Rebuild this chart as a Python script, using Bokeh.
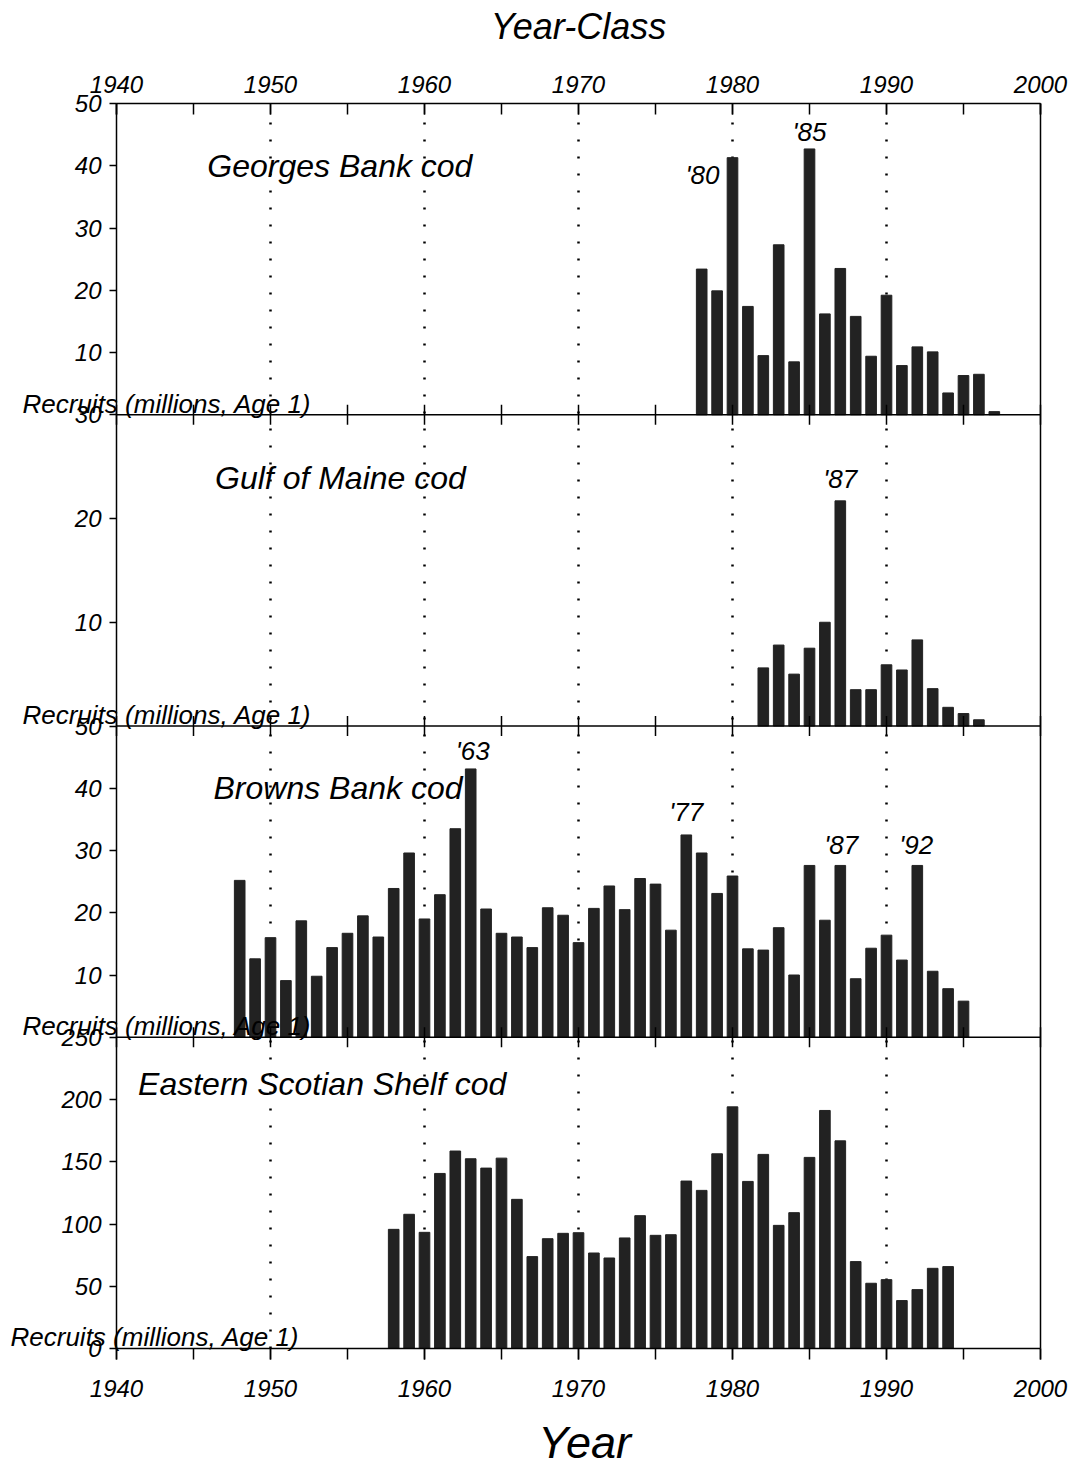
from bokeh.plotting import figure
from bokeh.models import (Range1d, LinearAxis, FixedTicker, Label, LabelSet,
                          ColumnDataSource, SingleIntervalTicker)
from bokeh.core.properties import value
from bokeh.embed import file_html
from bokeh.resources import INLINE

FONT = "Liberation Sans"

# ---------------- data ----------------
gb_years = list(range(1978, 1998))
gb_vals = [23.4, 19.9, 41.3, 17.4, 9.5, 27.3, 8.5, 42.7, 16.2, 23.5,
           15.8, 9.4, 19.2, 7.9, 10.9, 10.1, 3.5, 6.3, 6.5, 0.5]

gm_years = list(range(1982, 1997))
gm_vals = [5.6, 7.8, 5.0, 7.5, 10.0, 21.7, 3.5, 3.5, 5.9, 5.4, 8.3, 3.6, 1.8, 1.2, 0.6]

bb_years = list(range(1948, 1996))
bb_vals = [25.2, 12.6, 16.0, 9.1, 18.7, 9.8, 14.4, 16.7, 19.5, 16.1,
           23.9, 29.6, 19.0, 22.9, 33.5, 43.1, 20.6, 16.7, 16.1, 14.4,
           20.8, 19.6, 15.2, 20.7, 24.3, 20.5, 25.5, 24.6, 17.2, 32.5,
           29.6, 23.1, 25.9, 14.2, 14.0, 17.6, 10.0, 27.6, 18.8, 27.6,
           9.4, 14.3, 16.4, 12.4, 27.6, 10.6, 7.8, 5.8]

ess_years = list(range(1958, 1995))
ess_vals = [95.7, 107.8, 93.3, 140.6, 158.6, 152.4, 144.9, 152.9, 119.8, 73.8,
            88.2, 92.5, 93.0, 76.7, 72.7, 88.8, 106.7, 90.9, 91.4, 134.5,
            127.0, 156.4, 194.1, 134.2, 155.9, 98.9, 109.1, 153.5, 191.2, 166.8,
            69.8, 52.4, 55.3, 38.5, 47.3, 64.4, 65.8]

panel_titles = ["Georges Bank cod", "Gulf of Maine cod", "Browns Bank cod",
                "Eastern Scotian Shelf cod"]
panel_years = [gb_years, gm_years, bb_years, ess_years]
panel_vals = [gb_vals, gm_vals, bb_vals, ess_vals]
panel_max = [50, 30, 50, 250]
panel_step = [10, 10, 10, 50]

ann_panel = [0, 0, 1, 2, 2, 2, 2]
ann_year = [1980, 1985, 1987, 1963, 1977, 1987, 1992]
ann_text = ["'80", "'85", "'87", "'63", "'77", "'87", "'92"]

y_label = "Recruits (millions, Age 1)"
x_title_top = "Year-Class"
x_title_bottom = "Year"
X_START, X_END = 1940, 2000

# ---------------- styling / layout ----------------
BAND = 300
NP = 4
W, H = 1076, 1468
FRAME_L, FRAME_R, FRAME_T, FRAME_B = 116, 1040, 103, 1348   # box on the canvas
ppy = (FRAME_R - FRAME_L) / (X_END - X_START)
upp = NP * BAND / (FRAME_B - FRAME_T)
x_lo = X_START - FRAME_L / ppy
x_hi = X_END + (W - FRAME_R) / ppy
y_lo = -(H - FRAME_B) * upp
y_hi = NP * BAND + FRAME_T * upp

title_x = [1945.9, 1946.4, 1946.3, 1941.4]
title_y = [1140, 838.6, 539.8, 255.4]   # band units
recr_x = [x_lo + 22 / ppy] * 3 + [x_lo + 10 / ppy]
recr_dy = [11, 11, 11, 12]
ann_dx = [-30, 0, 0, 2, 0, 1, -1]
ann_dy = [-26, 8, 13, 9, 14, 11, 11]
BAR = "#222222"

p = figure(width=W, height=H, x_range=Range1d(x_lo, x_hi),
           y_range=Range1d(y_lo, y_hi), output_backend="svg",
           toolbar_location=None, x_axis_location=None, y_axis_location=None,
           min_border_left=0, min_border_right=0, min_border_top=0,
           min_border_bottom=0)
p.grid.visible = False
p.outline_line_color = None
p.background_fill_color = "white"
p.border_fill_color = "white"

# panel y ranges: each panel's 0..max fills its band of the shared frame
ranges = {}
for i in range(NP):
    M = panel_max[i]
    b0 = (NP - 1 - i) * BAND
    ranges["p%d" % i] = Range1d(start=(y_lo - b0) * M / BAND,
                                end=(y_hi - b0) * M / BAND)
p.extra_y_ranges = ranges

# dotted decade guides
decades = list(range(1950, 2000, 10))
p.segment(x0=decades, x1=decades, y0=[0] * len(decades),
          y1=[NP * BAND - 8 * upp] * len(decades), line_color="black",
          line_width=2.5, line_dash="2 15", level="underlay")

# bars
for i in range(NP):
    p.vbar(x=panel_years[i], top=panel_vals[i], bottom=0, width=0.69,
           y_range_name="p%d" % i, fill_color=BAR, line_color=BAR)

# right edge of the box
p.segment(x0=[X_END], x1=[X_END], y0=[0], y1=[NP * BAND], line_color="black",
          line_width=1.5)

# panel separators with crossing ticks
tick_years = list(range(X_START, X_END + 1, 5))
for k in range(1, NP):
    b = k * BAND
    p.segment(x0=[X_START], x1=[X_END], y0=[b], y1=[b], line_color="black",
              line_width=1.5)
    p.segment(x0=tick_years, x1=tick_years, y0=[b - 10 * upp] * len(tick_years),
              y1=[b + 10 * upp] * len(tick_years), line_color="black", line_width=1.5)

# left axis with per-panel labels, pinned at 1940
tick_pos = []
overrides = {}
for i in range(NP):
    base = (NP - 1 - i) * BAND
    M, s = panel_max[i], panel_step[i]
    for v in range(0, M + 1, s):
        if v == 0 and i != NP - 1:
            continue
        pos = int(round(base + v * BAND / M))
        tick_pos.append(pos)
        overrides[pos] = str(v)
yax = LinearAxis(ticker=FixedTicker(ticks=tick_pos), major_label_overrides=overrides,
                 fixed_location=X_START, bounds=(0, NP * BAND),
                 major_tick_out=7, major_tick_in=0, minor_tick_out=0, minor_tick_in=0,
                 major_label_standoff=8, axis_line_color="black", axis_line_width=1.5,
                 major_tick_line_width=1.5,
                 major_label_text_font=FONT, major_label_text_font_style="italic",
                 major_label_text_font_size="24px", major_label_text_color="black")
p.add_layout(yax, "left")

xaxis_style = dict(major_tick_line_width=1.5, minor_tick_line_width=1.5,
                   axis_line_width=1.5, axis_line_color="black",
                   major_label_text_font=FONT, major_label_text_font_style="italic",
                   major_label_text_font_size="24px", major_label_text_color="black")

# top axis
top = LinearAxis(ticker=SingleIntervalTicker(interval=10, num_minor_ticks=2),
                 fixed_location=NP * BAND, bounds=(X_START, X_END),
                 major_tick_in=11, major_tick_out=0, minor_tick_in=11, minor_tick_out=0,
                 major_label_standoff=11, **xaxis_style)
p.add_layout(top, "above")

# bottom axis
bot = LinearAxis(ticker=SingleIntervalTicker(interval=10, num_minor_ticks=2),
                 fixed_location=0, bounds=(X_START, X_END),
                 major_tick_in=0, major_tick_out=11, minor_tick_in=0, minor_tick_out=11,
                 major_label_standoff=20, **xaxis_style)
p.add_layout(bot, "below")

# axis titles
p.add_layout(Label(x=(X_START + X_END) / 2, y=NP * BAND + (FRAME_T - 26) * upp,
                   text=x_title_top, text_font=FONT, text_font_style="italic",
                   text_font_size="36px", text_align="center",
                   text_baseline="middle", text_color="black"))
p.add_layout(Label(x=(X_START + X_END) / 2 + 0.4, y=-(1442 - FRAME_B) * upp,
                   text=x_title_bottom, text_font=FONT, text_font_style="italic",
                   text_font_size="45px", text_align="center",
                   text_baseline="middle", text_color="black"))

# panel titles and y labels
for i in range(NP):
    p.add_layout(Label(x=title_x[i], y=title_y[i], text=panel_titles[i],
                       text_font=FONT, text_font_style="italic",
                       text_font_size="32px", text_baseline="middle",
                       text_color="black"))
    p.add_layout(Label(x=recr_x[i], y=(NP - 1 - i) * BAND, y_offset=recr_dy[i],
                       text=y_label, text_font=FONT, text_font_style="italic",
                       text_font_size="26px", text_baseline="middle",
                       text_color="black"))

# peak year-class annotations
for i in range(NP):
    idx = [j for j in range(len(ann_panel)) if ann_panel[j] == i]
    if not idx:
        continue
    xs = [ann_year[j] for j in idx]
    ys = [panel_vals[i][panel_years[i].index(ann_year[j])] for j in idx]
    src = ColumnDataSource(dict(x=xs, y=ys, text=[ann_text[j] for j in idx],
                                dx=[ann_dx[j] for j in idx],
                                dy=[ann_dy[j] for j in idx]))
    p.add_layout(LabelSet(x="x", y="y", text="text", x_offset="dx", y_offset="dy",
                          source=src, y_range_name="p%d" % i,
                          text_font=value(FONT), text_font_style="italic",
                          text_font_size="26px", text_align="center",
                          text_baseline="alphabetic", text_color="black"))

open("out.html", "w").write(file_html(p, INLINE))
